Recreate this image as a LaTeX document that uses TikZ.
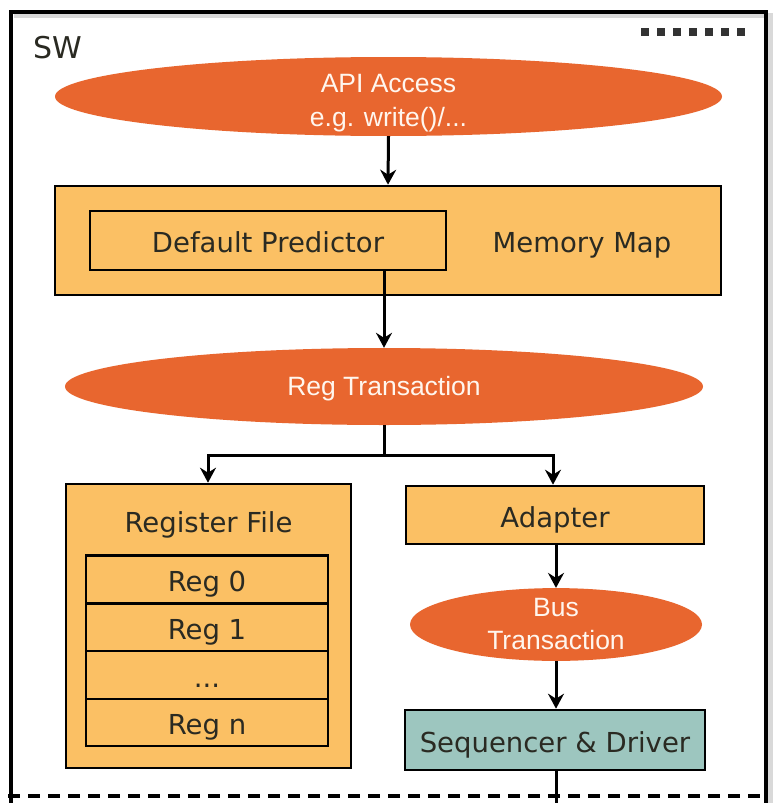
\documentclass[tikz,border=0pt]{standalone}
\usepackage{fontspec}
\setmainfont{DejaVu Sans}
\newfontfamily\ellfont{Liberation Sans}
\usetikzlibrary{shapes.geometric,arrows.meta}
\definecolor{ell}{HTML}{E8662F}
\definecolor{boxc}{HTML}{FBC064}
\definecolor{teal}{HTML}{9DC6BF}
\definecolor{txt}{HTML}{2A2A22}
\definecolor{elltxt}{HTML}{FFF6EE}
\tikzset{
  ellnode/.style={ellipse, fill=ell, draw=none, text=elltxt, font=\ellfont\fontsize{26.5}{34}\selectfont, align=center, inner sep=0pt},
  ell1/.style={ellnode, text height=22pt, text depth=4.3pt},
  elltext/.style={text=elltxt, font=\ellfont\fontsize{26.5}{34}\selectfont, align=center, inner sep=0pt},
  boxnode/.style={rectangle, fill=boxc, draw=black, line width=2.6pt, text=txt, font=\fontsize{27.5}{32}\selectfont, inner sep=0pt, text height=28pt, text depth=4pt},
  inbox/.style={rectangle, draw=black, line width=2.4pt, text=txt, font=\fontsize{27.5}{32}\selectfont, inner sep=0pt, text height=28pt, text depth=4pt},
  lbl/.style={text=txt, font=\fontsize{27.5}{32}\selectfont, inner sep=0pt, text height=28pt, text depth=4pt},
  conn/.style={line width=3pt, -{Stealth[length=15pt,width=16pt,inset=5pt]}},
  plain/.style={line width=3pt},
}
\begin{document}
\begin{tikzpicture}[x=1pt,y=-1pt]
\useasboundingbox (0,0) rectangle (777,803);
\fill[white] (0,0) rectangle (777,803);
% outer frame
\draw[black!15, line width=5pt] (14,15) -- (770,15) -- (770,803);
\draw[line width=3.4pt] (11,803) -- (11,12) -- (766,12) -- (766,803);
\draw[line width=3.6pt, dash pattern=on 12pt off 8pt] (8,796) -- (762,796);
\node[text=txt, inner sep=0pt, anchor=west, font=\fontsize{30}{34}\selectfont] (sw) at (33,48) {SW};
\foreach \i in {0,...,6} \fill[black!80] (641+\i*16,28) rectangle ++(8,8);
% nodes
\node[ellnode, minimum width=667pt, minimum height=79pt] (api) at (388.5,96.5) {};
\node[elltext] (apit) at (388.5,103) {API Access\\e.g. write()/...};
\node[boxnode, minimum width=666pt, minimum height=109pt] (mm) at (388,240.5) {};
\node[inbox, minimum width=356pt, minimum height=59pt] (dp) at (268,240.5) {Default Predictor};
\node[lbl] (mmt) at (582,240.5) {Memory Map};
\node[ell1, minimum width=638pt, minimum height=77pt] (reg) at (384,386.5) {Reg Transaction};
\node[boxnode, minimum width=285pt, minimum height=284pt] (rf) at (208.5,626) {};
\node[lbl] (rft) at (208.5,520) {Register File};
\node[inbox, minimum width=242pt, minimum height=48pt] (r0) at (207,579.5) {Reg 0};
\node[inbox, minimum width=242pt, minimum height=47pt] (r1) at (207,627.5) {Reg 1};
\node[inbox, minimum width=242pt, minimum height=48pt] (r2) at (207,675) {...};
\node[inbox, minimum width=242pt, minimum height=47pt] (r3) at (207,722.5) {Reg n};
\node[boxnode, minimum width=298pt, minimum height=58pt] (ad) at (555,515) {Adapter};
\node[ellnode, minimum width=292pt, minimum height=67pt, font=\ellfont\fontsize{26.5}{33}\selectfont] (bus) at (556,624.5) {Bus\\Transaction};
\node[boxnode, fill=teal, minimum width=300pt, minimum height=60pt] (sd) at (555,740) {Sequencer \& Driver};
\coordinate (split) at (384,455);
\coordinate (bl) at (208,455);
\coordinate (br) at (553,455);
\coordinate (out) at (556,803);
% connectors
\draw[conn] (api.south) -- (mm.north);
\draw[conn] (dp.south -| reg.north) -- (reg.north);
\draw[plain] (reg.south) -- (split);
\draw[plain, line cap=rect] (bl) -- (br);
\draw[conn] (bl) -- (bl |- rf.north);
\draw[conn] (br) -- (br |- ad.north);
\draw[conn] (ad.south -| bus.north) -- (bus.north);
\draw[conn] (bus.south) -- (bus.south |- sd.north);
\draw[plain] (sd.south -| out) -- (out);
\end{tikzpicture}
\end{document}
